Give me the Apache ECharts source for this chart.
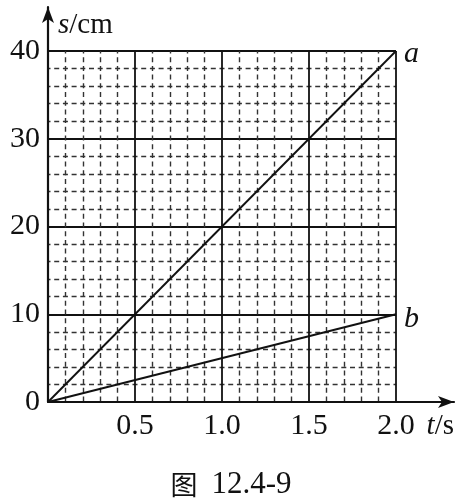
<!DOCTYPE html>
<html>
<head>
<meta charset="utf-8">
<script src="https://cdn.jsdelivr.net/npm/echarts@6/dist/echarts.min.js"></script>
<style>html,body{margin:0;padding:0;background:#fff}#c{width:462px;height:503px}</style>
</head>
<body>
<div id="c"></div>
<script>
var xTicks = [0, 0.5, 1.0, 1.5, 2.0];
var yTicks = [0, 10, 20, 30, 40];
var lineA = [[0, 0], [2.0, 40]];
var lineB = [[0, 0], [2.0, 10]];
var seriesNames = ['a', 'b'];
var caption = '图 12.4-9';

var serif = '"Liberation Serif", "DejaVu Serif", serif';
var chart = echarts.init(document.getElementById('c'), null, {renderer: 'canvas'});
var dash = [5, 3.7];
chart.setOption({
  animation: false,
  backgroundColor: '#fff',
  title: {
    text: '{cj|图}{num|12.4-9}',
    left: 'center', top: 464,
    textStyle: {
      fontWeight: 'normal',
      rich: {
        cj: {fontFamily: '"Noto Sans CJK SC"', fontSize: 27, color: '#111', fontWeight: 'normal', padding: [0, 14, 0, 0]},
        num: {fontFamily: serif, fontSize: 31, color: '#111', fontWeight: 'normal'}
      }
    }
  },
  grid: [
    {left: 48, right: 66, top: 51, bottom: 101},
    {left: 48, right: 8, top: 7, bottom: 101}
  ],
  xAxis: [{
    type: 'value', gridIndex: 0,
    min: xTicks[0], max: xTicks[xTicks.length - 1], interval: 0.5,
    axisLine: {show: false},
    axisTick: {show: false},
    axisLabel: {
      fontFamily: serif, fontSize: 30, color: '#111', margin: 9,
      formatter: function (v) { return v === 0 ? '' : v.toFixed(1); }
    },
    splitLine: {show: true, lineStyle: {color: '#111', width: 1.8}},
    minorTick: {show: false, splitNumber: 5},
    minorSplitLine: {show: true, lineStyle: {color: '#333', width: 1.4, type: dash, dashOffset: 2.5}}
  }, {
    type: 'value', gridIndex: 1, min: 0, max: 1,
    axisLine: {show: true, symbol: ['none', 'arrow'], symbolSize: [9, 16], lineStyle: {color: '#111', width: 2.2}},
    axisTick: {show: false}, axisLabel: {show: false}, splitLine: {show: false},
    name: '{i|t}/s', nameLocation: 'end', nameGap: 0,
    nameTextStyle: {
      fontFamily: serif, fontSize: 29, color: '#111', align: 'right', verticalAlign: 'top',
      padding: [10, 0, 0, 0],
      rich: {i: {fontFamily: serif, fontStyle: 'italic', fontSize: 29, color: '#111'}}
    }
  }],
  yAxis: [{
    type: 'value', gridIndex: 0,
    min: yTicks[0], max: yTicks[yTicks.length - 1], interval: 10,
    axisLine: {show: false},
    axisTick: {show: false},
    axisLabel: {fontFamily: serif, fontSize: 30, color: '#111', margin: 8},
    splitLine: {show: true, lineStyle: {color: '#111', width: 1.8}},
    minorTick: {show: false, splitNumber: 5},
    minorSplitLine: {show: true, lineStyle: {color: '#333', width: 1.4, type: dash, dashOffset: 2.5}}
  }, {
    type: 'value', gridIndex: 1, min: 0, max: 1,
    axisLine: {show: true, symbol: ['none', 'arrow'], symbolSize: [9, 16], lineStyle: {color: '#111', width: 2.2}},
    axisTick: {show: false}, axisLabel: {show: false}, splitLine: {show: false},
    name: '{i|s}/cm', nameLocation: 'end', nameGap: 0,
    nameTextStyle: {
      fontFamily: serif, fontSize: 29, color: '#111', align: 'left', verticalAlign: 'top',
      padding: [4, 0, 0, 10],
      rich: {i: {fontFamily: serif, fontStyle: 'italic', fontSize: 29, color: '#111'}}
    }
  }],
  series: [{
    name: seriesNames[0], type: 'line', xAxisIndex: 0, yAxisIndex: 0,
    data: lineA, showSymbol: false, silent: true,
    lineStyle: {color: '#111', width: 1.9},
    endLabel: {show: true, formatter: seriesNames[0], fontFamily: serif, fontStyle: 'italic', fontSize: 30, color: '#111', distance: 8, offset: [0, 3]}
  }, {
    name: seriesNames[1], type: 'line', xAxisIndex: 0, yAxisIndex: 0,
    data: lineB, showSymbol: false, silent: true,
    lineStyle: {color: '#111', width: 1.9},
    endLabel: {show: true, formatter: seriesNames[1], fontFamily: serif, fontStyle: 'italic', fontSize: 30, color: '#111', distance: 8, offset: [0, 5]}
  }]
});
</script>
</body>
</html>
